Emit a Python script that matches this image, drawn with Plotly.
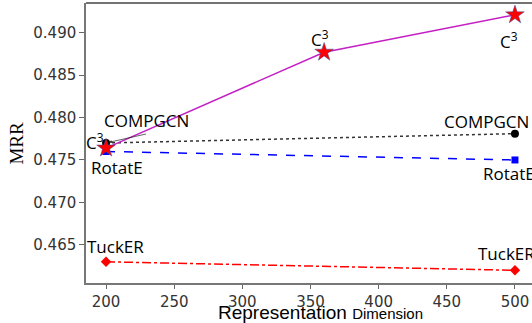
import plotly.graph_objects as go

dims_c3 = [200, 360, 500]
mrr_c3 = [0.4764, 0.4877, 0.4921]
dims_base = [200, 500]
mrr_compgcn = [0.4770, 0.4781]
mrr_rotate = [0.4760, 0.4750]
mrr_tucker = [0.4630, 0.4620]
x_ticks = [200, 250, 300, 350, 400, 450, 500]
y_ticks = [0.465, 0.470, 0.475, 0.480, 0.485, 0.490]

fig = go.Figure()
fig.add_trace(go.Scatter(x=dims_base, y=mrr_tucker, mode="lines+markers",
    line=dict(color="red", dash="dashdot", width=1.5),
    marker=dict(symbol="diamond", size=8, color="red")))
fig.add_trace(go.Scatter(x=dims_base, y=mrr_rotate, mode="lines+markers",
    line=dict(color="blue", dash="dash", width=1.5),
    marker=dict(symbol="square", size=7, color="blue")))
fig.add_trace(go.Scatter(x=dims_base, y=mrr_compgcn, mode="lines+markers",
    line=dict(color="#333", dash="dot", width=1.5),
    marker=dict(symbol="circle", size=8, color="black")))
fig.add_trace(go.Scatter(x=dims_c3, y=mrr_c3, mode="lines+markers",
    line=dict(color="#c41fc4", width=1.5),
    marker=dict(symbol="star", size=14, color="red", line=dict(color="#3050a0", width=0.5))))

af = dict(family="Open Sans", size=17, color="black")
ann = [
    dict(x=dims_c3[1], y=mrr_c3[1], text="C<sup>3</sup>", showarrow=False, xshift=-4, yshift=14),
    dict(x=dims_c3[2], y=mrr_c3[2], text="C<sup>3</sup>", showarrow=False, xshift=-6, yshift=-26),
    dict(x=dims_c3[0], y=mrr_c3[0], text="C<sup>3</sup>", showarrow=False, xshift=-11, yshift=7),
    dict(x=dims_base[0], y=mrr_compgcn[0], text="COMPGCN", showarrow=True, arrowhead=2,
         arrowsize=0.8, arrowwidth=0.7, arrowcolor="#222", ax=40, ay=-9,
         xanchor="center", yanchor="bottom", standoff=3),
    dict(x=dims_base[1], y=mrr_compgcn[1], text="COMPGCN", showarrow=False, xshift=-28, yshift=12),
    dict(x=dims_base[0], y=mrr_rotate[0], text="RotatE", showarrow=False, xshift=11, yshift=-16),
    dict(x=dims_base[1], y=mrr_rotate[1], text="RotatE", showarrow=False, xshift=-6, yshift=-14),
    dict(x=dims_base[0], y=mrr_tucker[0], text="TuckER", showarrow=False, xshift=9, yshift=15),
    dict(x=dims_base[1], y=mrr_tucker[1], text="TuckER", showarrow=False, xshift=-8, yshift=17),
    dict(x=-0.13, y=0.5, xref="paper", yref="paper", text="MRR", textangle=-90, showarrow=False,
         xanchor="right", yanchor="middle", font=dict(family="Liberation Serif", size=19, color="black")),
    dict(x=0.292, y=-0.062, xref="paper", yref="paper",
         text="Representation <span style='font-size:15px'>Dimension</span>", showarrow=False,
         xanchor="left", yanchor="top", font=dict(family="Liberation Sans", size=19, color="black")),
]
for a in ann[:9]:
    a["font"] = af
fig.update_layout(annotations=ann)

fig.update_layout(
    width=532, height=323, showlegend=False,
    plot_bgcolor="white", paper_bgcolor="white",
    margin=dict(l=86, r=0, t=3, b=40),
    xaxis=dict(range=[185.3, 512.5], tickvals=x_ticks, ticks="outside", ticklen=4, tickcolor="#666",
               showgrid=False, zeroline=False, showline=True, linecolor="#777", linewidth=1.5,
               tickfont=dict(family="DejaVu Sans", size=15, color="#333")),
    yaxis=dict(range=[0.4605, 0.4935], tickvals=y_ticks, tickformat=".3f", ticks="outside", ticklen=5,
               tickcolor="#666", showgrid=False, zeroline=False, showline=True, linecolor="#777", linewidth=1.5,
               tickfont=dict(family="DejaVu Sans", size=15, color="#333")),
    shapes=[dict(type="line", xref="paper", yref="paper", x0=0, x1=1, y0=1, y1=1,
                 line=dict(color="#444", width=1.5))],
)
fig.write_html("out.html", config={"displayModeBar": False},
               post_script="document.body.style.margin='0';")
